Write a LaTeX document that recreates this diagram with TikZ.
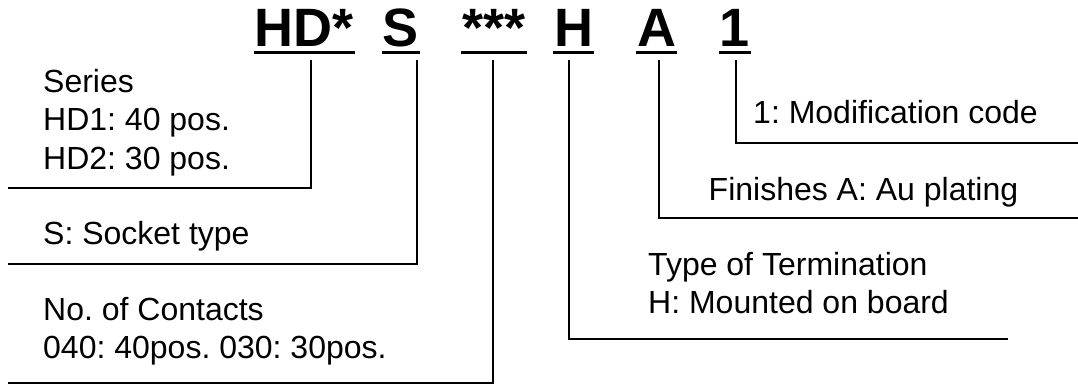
\documentclass[tikz,border=0pt]{standalone}
\usepackage{fontspec}
\setmainfont{Liberation Sans}
\frenchspacing
\begin{document}
\begin{tikzpicture}[x=1pt,y=-1pt,
  codetxt/.style={inner sep=0pt,anchor=base,font=\fontsize{54}{60}\selectfont\bfseries},
  desc/.style={inner sep=0pt,anchor=base west,font=\fontsize{32}{38}\selectfont},
  uline/.style={line width=3pt},
  leader/.style={line width=1.5pt}]
\useasboundingbox (0,0) rectangle (1078,385);
% code letters
\node[codetxt] (hd)  at (304.5,47) {HD*};
\node[codetxt] (s)   at (401,47)   {S};
\node[codetxt] (num) at (494,47)   {***};
\node[codetxt] (h)   at (573.5,47) {H};
\node[codetxt] (a)   at (656.5,47) {A};
\node[codetxt] (one) at (735,47)   {1};
\foreach \n in {hd,s,num,h,a,one}
  \draw[uline] ([yshift=-6pt,xshift=-1pt]\n.base west) -- ([yshift=-6pt,xshift=1pt]\n.base east);
% descriptions
\node[desc] (ser1) at (43,93)  {Series};
\node[desc] (ser2) at (43,131) {HD1: 40 pos.};
\node[desc] (ser3) at (43,169) {HD2: 30 pos.};
\node[desc] (sock) at (43,244) {S: Socket type};
\node[desc] (con1) at (43,320) {No. of Contacts};
\node[desc] (con2) at (43,358) {040: 40pos. 030: 30pos.};
\node[desc] (ter1) at (648,275) {Type of Termination};
\node[desc] (ter2) at (648,313) {H: Mounted on board};
\node[desc] (fin)  at (708.5,200) {Finishes A: Au plating};
\node[desc] (mod)  at (753,124) {1: Modification code};
% leader coordinates
\coordinate (hdT) at (311,60);   \coordinate (hdC) at (311,188);  \coordinate (hdE) at (8,188);
\coordinate (sT)  at (417,60);   \coordinate (sC)  at (417,264);  \coordinate (sE)  at (8,264);
\coordinate (nT)  at (493,60);   \coordinate (nC)  at (493,383);  \coordinate (nE)  at (8,383);
\coordinate (hT)  at (569,60);   \coordinate (hC)  at (569,339);  \coordinate (hE)  at (1008,339);
\coordinate (aT)  at (659,60);   \coordinate (aC)  at (659,218);  \coordinate (aE)  at (1078,218);
\coordinate (oT)  at (736,60);   \coordinate (oC)  at (736,143);  \coordinate (oE)  at (1078,143);
\draw[leader] (hdT) -- (hdC) -- (hdE);
\draw[leader] (sT) -- (sC) -- (sE);
\draw[leader] (nT) -- (nC) -- (nE);
\draw[leader] (hT) -- (hC) -- (hE);
\draw[leader] (aT) -- (aC) -- (aE);
\draw[leader] (oT) -- (oC) -- (oE);
\end{tikzpicture}
\end{document}
